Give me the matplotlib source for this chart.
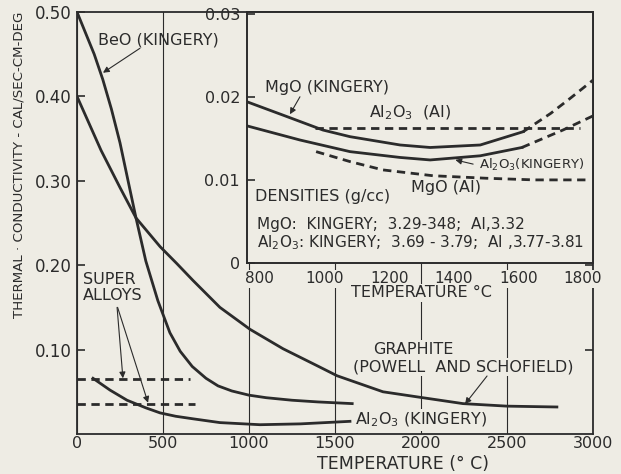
import numpy as np
import matplotlib.pyplot as plt
from matplotlib import font_manager

plt.rcParams['font.family'] = 'DejaVu Sans'
plt.rcParams['mathtext.default'] = 'regular'

bg = '#eeece4'
ink = '#2b2b2b'

# main chart data (temperature in deg C, conductivity cal/sec-cm-deg)
beo_t = [0, 50, 100, 150, 200, 250, 300, 343, 400, 470, 540, 600, 670, 750, 820, 900, 1000, 1100, 1250,
         1400, 1600]
beo_k = [0.500, 0.475, 0.450, 0.420, 0.385, 0.345, 0.297, 0.256, 0.205, 0.158, 0.120, 0.098, 0.080, 0.066,
         0.057, 0.051, 0.046, 0.043, 0.040, 0.038, 0.036]

graph_t = [0, 140, 250, 343, 483, 580, 674, 831, 1006, 1198, 1395, 1512, 1779, 1977, 2244, 2500, 2790]
graph_k = [0.400, 0.336, 0.292, 0.256, 0.222, 0.202, 0.182, 0.150, 0.124, 0.101, 0.081, 0.069, 0.050,
           0.044, 0.036, 0.033, 0.032]

al_t = [93, 192, 291, 400, 483, 574, 674, 831, 1064, 1300, 1587]
al_k = [0.066, 0.052, 0.040, 0.031, 0.025, 0.021, 0.018, 0.0135, 0.011, 0.012, 0.015]

alloy_hi_t = [0, 657]
alloy_hi_k = [0.065, 0.065]
alloy_lo_t = [0, 686]
alloy_lo_k = [0.0355, 0.0355]

# inset data
mgo_kin_t = [760, 871, 995, 1079, 1234, 1327, 1482, 1615]
mgo_kin_k = [0.0194, 0.0178, 0.0160, 0.0152, 0.0142, 0.0139, 0.0142, 0.0158]
mgo_kin_ext_t = [1615, 1700, 1760, 1831]
mgo_kin_ext_k = [0.0158, 0.0180, 0.0198, 0.0220]

al_kin_t = [760, 924, 1079, 1234, 1327, 1482, 1611]
al_kin_k = [0.0165, 0.0148, 0.0134, 0.0127, 0.0124, 0.0129, 0.0139]
al_kin_ext_t = [1611, 1738, 1831]
al_kin_ext_k = [0.0139, 0.0160, 0.0177]

al_ai_t = [970, 1790]
al_ai_k = [0.0162, 0.0162]

mgo_ai_t = [974, 1079, 1181, 1336, 1500, 1650, 1820]
mgo_ai_k = [0.0134, 0.0122, 0.0112, 0.0105, 0.0102, 0.0100, 0.0100]

main_xticks = [0, 500, 1000, 1500, 2000, 2500, 3000]
main_yticks = [0.10, 0.20, 0.30, 0.40, 0.50]
main_ylabels = ['0.10', '0.20', '0.30', '0.40', '0.50']
inset_xticks = [800, 1000, 1200, 1400, 1600, 1800]
inset_yticks = [0, 0.01, 0.02, 0.03]
inset_ylabels = ['0', '0.01', '0.02', '0.03']

# narrow face for the long axis title if we have it
names = {f.name for f in font_manager.fontManager.ttflist}
if 'Liberation Sans Narrow' in names:
    ylab_font, ylab_size = 'Liberation Sans Narrow', 12
else:
    ylab_font, ylab_size = 'DejaVu Sans', 9.6

fig = plt.figure(figsize=(6.21, 4.74), dpi=100, facecolor=bg)
ax = fig.add_axes([0.124, 0.0844, 0.8309, 0.8903], facecolor=bg)

lw = 2.0
dash = (0, (3, 2))
box = dict(boxstyle='square,pad=0.1', fc=bg, ec='none')
arrow = dict(arrowstyle='-|>', color=ink, lw=0.8, mutation_scale=9, shrinkA=0, shrinkB=0)

ax.plot(beo_t, beo_k, color=ink, lw=lw, zorder=2.3)
ax.plot(graph_t, graph_k, color=ink, lw=lw, zorder=2.3)
ax.plot(al_t, al_k, color=ink, lw=lw, zorder=2.3)
ax.plot(alloy_hi_t, alloy_hi_k, color=ink, lw=lw, ls=dash, zorder=2.3)
ax.plot(alloy_lo_t, alloy_lo_k, color=ink, lw=lw, ls=dash, zorder=2.3)

ax.set_xlim(0, 3000)
ax.set_ylim(0, 0.5)
ax.set_xticks(main_xticks)
ax.set_yticks(main_yticks)
ax.set_yticklabels(main_ylabels)
ax.tick_params(axis='x', length=0, pad=1.5, labelsize=11.5, colors=ink)
ax.tick_params(axis='y', direction='in', length=6, width=1.2, right=True, pad=4, labelsize=12, colors=ink)
ax.grid(axis='x', color=ink, lw=0.8)
for s in ax.spines.values():
    s.set_linewidth(1.3)
    s.set_color(ink)

# main labels
ax.text(0.041, 0.934, 'BeO (KINGERY)', transform=ax.transAxes, fontsize=11.5, color=ink, va='center')
ax.annotate('', xy=(151, 0.428), xytext=(366, 0.457), arrowprops=arrow)
ax.text(0.012, 0.348, 'SUPER\nALLOYS', transform=ax.transAxes, fontsize=11.5, color=ink,
        va='center', linespacing=1.1, bbox=box, zorder=2.2)
ax.annotate('', xy=(267, 0.066), xytext=(233, 0.150), arrowprops=arrow)
ax.annotate('', xy=(413, 0.037), xytext=(236, 0.150), arrowprops=arrow)
ax.text(0.574, 0.201, 'GRAPHITE', transform=ax.transAxes, fontsize=11.5, color=ink, va='center',
        bbox=box, zorder=2.2)
ax.text(0.535, 0.159, '(POWELL  AND SCHOFIELD)', transform=ax.transAxes, fontsize=11.5, color=ink,
        va='center', bbox=box, zorder=2.2)
ax.annotate('', xy=(2256, 0.0355), xytext=(2384, 0.0687), arrowprops=arrow)
ax.text(0.539, 0.033, 'Al$_2$O$_3$ (KINGERY)', transform=ax.transAxes, fontsize=11.5, color=ink,
        va='center', bbox=box, zorder=2.2)

fig.text(0.031, 0.652, 'THERMAL \u00b7 CONDUCTIVITY - CAL/SEC-CM-DEG', rotation=90, ha='center',
         va='center', fontsize=ylab_size, family=[ylab_font, 'DejaVu Sans'], color=ink)
fig.text(0.649, 0.0115, 'TEMPERATURE (\u00b0 C)', ha='center', va='baseline', fontsize=12.5, color=ink)

# inset, sharing the right and top edges of the main frame
ax_in = fig.add_axes([0.3977, 0.4451, 0.5572, 0.5296], facecolor=bg)
ax_in.plot(mgo_kin_t, mgo_kin_k, color=ink, lw=lw)
ax_in.plot(mgo_kin_ext_t, mgo_kin_ext_k, color=ink, lw=lw, ls=dash)
ax_in.plot(al_kin_t, al_kin_k, color=ink, lw=lw)
ax_in.plot(al_kin_ext_t, al_kin_ext_k, color=ink, lw=lw, ls=dash)
ax_in.plot(al_ai_t, al_ai_k, color=ink, lw=lw, ls=dash)
ax_in.plot(mgo_ai_t, mgo_ai_k, color=ink, lw=lw, ls=dash)

ax_in.set_xlim(760, 1831)
ax_in.set_ylim(0, 0.0302)
ax_in.set_xticks(inset_xticks)
ax_in.set_yticks(inset_yticks)
ax_in.set_yticklabels(inset_ylabels)
ax_in.tick_params(axis='x', length=0, pad=6, labelsize=11, colors=ink)
ax_in.tick_params(axis='y', direction='in', length=6, width=1.2, pad=5, labelsize=11.5, colors=ink)
for lab in ax_in.get_xticklabels():
    lab.set_bbox(box)
for s in ax_in.spines.values():
    s.set_linewidth(1.4)
    s.set_color(ink)

ax_in.text(0.052, 0.70, 'MgO (KINGERY)', transform=ax_in.transAxes, fontsize=11.5, color=ink, va='center')
ax_in.annotate('', xy=(893, 0.0179), xytext=(924, 0.0200), arrowprops=arrow)
ax_in.text(0.353, 0.60, 'Al$_2$O$_3$  (AI)', transform=ax_in.transAxes, fontsize=11.5, color=ink, va='center')
ax_in.text(0.67, 0.392, 'Al$_2$O$_3$(KINGERY)', transform=ax_in.transAxes, fontsize=9.5, color=ink, va='center')
ax_in.annotate('', xy=(1405, 0.0124), xytext=(1460, 0.0119), arrowprops=arrow)
ax_in.text(0.473, 0.30, 'MgO (AI)', transform=ax_in.transAxes, fontsize=11.5, color=ink, va='center')
ax_in.text(0.023, 0.264, 'DENSITIES (g/cc)', transform=ax_in.transAxes, fontsize=11.5, color=ink, va='center')
ax_in.text(0.029, 0.152, 'MgO:  KINGERY;  3.29-348;  AI,3.32', transform=ax_in.transAxes, fontsize=11,
           color=ink, va='center')
ax_in.text(0.029, 0.08, 'Al$_2$O$_3$: KINGERY;  3.69 - 3.79;  AI ,3.77-3.81', transform=ax_in.transAxes,
           fontsize=11, color=ink, va='center')

fig.text(0.678, 0.382, 'TEMPERATURE \u00b0C', ha='center', va='center', fontsize=11.5, color=ink,
         bbox=box)

fig.savefig('out.png', dpi=100, facecolor=bg)
